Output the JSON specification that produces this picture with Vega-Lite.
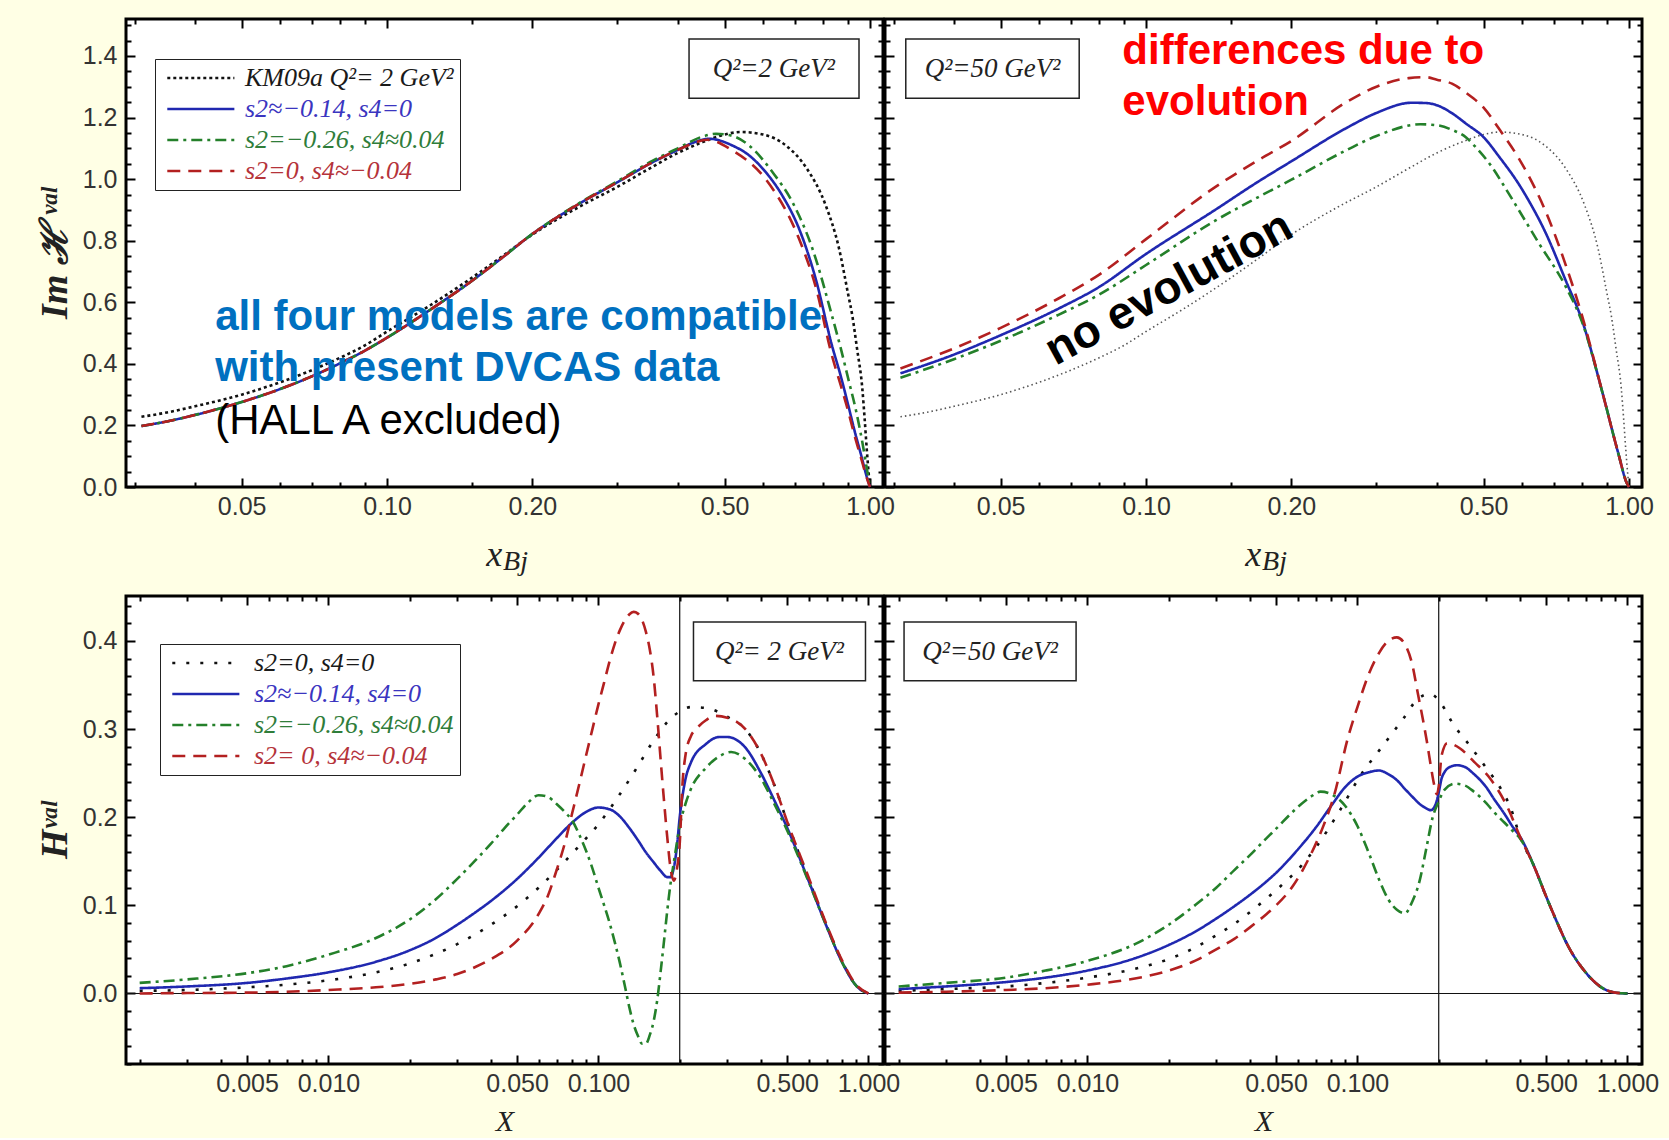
{
  "$schema": "https://vega.github.io/schema/vega-lite/v6.json",
  "background": "#FFFFE5",
  "padding": {"left": 34, "top": 11, "right": 8, "bottom": 0},
  "datasets": {
    "tl": [
      {"x":0.031,"y":0.228,"s":"K"},{"x":0.035,"y":0.242,"s":"K"},{"x":0.04,"y":0.262,"s":"K"},{"x":0.05,"y":0.3,"s":"K"},{"x":0.06,"y":0.34,"s":"K"},{"x":0.07,"y":0.38,"s":"K"},{"x":0.08,"y":0.42,"s":"K"},{"x":0.09,"y":0.46,"s":"K"},{"x":0.1,"y":0.505,"s":"K"},{"x":0.12,"y":0.58,"s":"K"},{"x":0.15,"y":0.68,"s":"K"},{"x":0.17,"y":0.74,"s":"K"},{"x":0.2,"y":0.82,"s":"K"},{"x":0.25,"y":0.91,"s":"K"},{"x":0.3,"y":0.975,"s":"K"},{"x":0.35,"y":1.035,"s":"K"},{"x":0.4,"y":1.085,"s":"K"},{"x":0.45,"y":1.12,"s":"K"},{"x":0.5,"y":1.145,"s":"K"},{"x":0.54,"y":1.153,"s":"K"},{"x":0.6,"y":1.145,"s":"K"},{"x":0.67,"y":1.109,"s":"K"},{"x":0.74,"y":1.034,"s":"K"},{"x":0.81,"y":0.914,"s":"K"},{"x":0.863,"y":0.774,"s":"K"},{"x":0.9,"y":0.63,"s":"K"},{"x":0.919,"y":0.557,"s":"K"},{"x":0.94,"y":0.45,"s":"K"},{"x":0.964,"y":0.32,"s":"K"},{"x":0.975,"y":0.22,"s":"K"},{"x":0.985,"y":0.12,"s":"K"},{"x":0.993,"y":0.05,"s":"K"},{"x":1.0,"y":0,"s":"K"},
      {"x":0.031,"y":0.198,"s":"B"},{"x":0.035,"y":0.213,"s":"B"},{"x":0.04,"y":0.234,"s":"B"},{"x":0.05,"y":0.276,"s":"B"},{"x":0.06,"y":0.318,"s":"B"},{"x":0.07,"y":0.36,"s":"B"},{"x":0.08,"y":0.402,"s":"B"},{"x":0.09,"y":0.443,"s":"B"},{"x":0.1,"y":0.485,"s":"B"},{"x":0.12,"y":0.565,"s":"B"},{"x":0.15,"y":0.67,"s":"B"},{"x":0.17,"y":0.735,"s":"B"},{"x":0.2,"y":0.822,"s":"B"},{"x":0.25,"y":0.92,"s":"B"},{"x":0.3,"y":0.99,"s":"B"},{"x":0.35,"y":1.05,"s":"B"},{"x":0.4,"y":1.095,"s":"B"},{"x":0.43,"y":1.118,"s":"B"},{"x":0.464,"y":1.131,"s":"B"},{"x":0.519,"y":1.109,"s":"B"},{"x":0.562,"y":1.077,"s":"B"},{"x":0.608,"y":1.023,"s":"B"},{"x":0.658,"y":0.947,"s":"B"},{"x":0.713,"y":0.839,"s":"B"},{"x":0.772,"y":0.676,"s":"B"},{"x":0.834,"y":0.46,"s":"B"},{"x":0.87,"y":0.36,"s":"B"},{"x":0.9,"y":0.27,"s":"B"},{"x":0.93,"y":0.18,"s":"B"},{"x":0.96,"y":0.1,"s":"B"},{"x":0.98,"y":0.045,"s":"B"},{"x":1.0,"y":0,"s":"B"},
      {"x":0.031,"y":0.198,"s":"G"},{"x":0.035,"y":0.213,"s":"G"},{"x":0.04,"y":0.234,"s":"G"},{"x":0.05,"y":0.276,"s":"G"},{"x":0.06,"y":0.318,"s":"G"},{"x":0.07,"y":0.36,"s":"G"},{"x":0.08,"y":0.402,"s":"G"},{"x":0.09,"y":0.443,"s":"G"},{"x":0.1,"y":0.485,"s":"G"},{"x":0.12,"y":0.565,"s":"G"},{"x":0.15,"y":0.67,"s":"G"},{"x":0.17,"y":0.735,"s":"G"},{"x":0.2,"y":0.822,"s":"G"},{"x":0.25,"y":0.922,"s":"G"},{"x":0.3,"y":0.993,"s":"G"},{"x":0.35,"y":1.055,"s":"G"},{"x":0.4,"y":1.1,"s":"G"},{"x":0.45,"y":1.138,"s":"G"},{"x":0.48,"y":1.147,"s":"G"},{"x":0.52,"y":1.14,"s":"G"},{"x":0.562,"y":1.109,"s":"G"},{"x":0.628,"y":1.023,"s":"G"},{"x":0.691,"y":0.925,"s":"G"},{"x":0.76,"y":0.774,"s":"G"},{"x":0.834,"y":0.557,"s":"G"},{"x":0.87,"y":0.45,"s":"G"},{"x":0.905,"y":0.341,"s":"G"},{"x":0.935,"y":0.25,"s":"G"},{"x":0.964,"y":0.146,"s":"G"},{"x":0.985,"y":0.06,"s":"G"},{"x":1.0,"y":0,"s":"G"},
      {"x":0.031,"y":0.198,"s":"R"},{"x":0.035,"y":0.213,"s":"R"},{"x":0.04,"y":0.234,"s":"R"},{"x":0.05,"y":0.276,"s":"R"},{"x":0.06,"y":0.318,"s":"R"},{"x":0.07,"y":0.36,"s":"R"},{"x":0.08,"y":0.402,"s":"R"},{"x":0.09,"y":0.443,"s":"R"},{"x":0.1,"y":0.485,"s":"R"},{"x":0.12,"y":0.565,"s":"R"},{"x":0.15,"y":0.67,"s":"R"},{"x":0.17,"y":0.735,"s":"R"},{"x":0.2,"y":0.822,"s":"R"},{"x":0.25,"y":0.92,"s":"R"},{"x":0.3,"y":0.99,"s":"R"},{"x":0.35,"y":1.05,"s":"R"},{"x":0.4,"y":1.095,"s":"R"},{"x":0.43,"y":1.116,"s":"R"},{"x":0.46,"y":1.128,"s":"R"},{"x":0.519,"y":1.093,"s":"R"},{"x":0.608,"y":1.0,"s":"R"},{"x":0.713,"y":0.806,"s":"R"},{"x":0.772,"y":0.65,"s":"R"},{"x":0.834,"y":0.427,"s":"R"},{"x":0.87,"y":0.33,"s":"R"},{"x":0.9,"y":0.25,"s":"R"},{"x":0.93,"y":0.165,"s":"R"},{"x":0.96,"y":0.09,"s":"R"},{"x":0.98,"y":0.04,"s":"R"},{"x":1.0,"y":0,"s":"R"}
    ],
    "tr": [
      {"x":0.031,"y":0.369,"s":"B"},{"x":0.04,"y":0.43,"s":"B"},{"x":0.05,"y":0.493,"s":"B"},{"x":0.066,"y":0.58,"s":"B"},{"x":0.08,"y":0.65,"s":"B"},{"x":0.1,"y":0.757,"s":"B"},{"x":0.139,"y":0.9,"s":"B"},{"x":0.17,"y":0.99,"s":"B"},{"x":0.2,"y":1.058,"s":"B"},{"x":0.26,"y":1.166,"s":"B"},{"x":0.3,"y":1.215,"s":"B"},{"x":0.355,"y":1.248,"s":"B"},{"x":0.38,"y":1.247,"s":"B"},{"x":0.4,"y":1.24,"s":"B"},{"x":0.43,"y":1.214,"s":"B"},{"x":0.46,"y":1.18,"s":"B"},{"x":0.5,"y":1.136,"s":"B"},{"x":0.54,"y":1.07,"s":"B"},{"x":0.59,"y":0.986,"s":"B"},{"x":0.62,"y":0.93,"s":"B"},{"x":0.67,"y":0.83,"s":"B"},{"x":0.74,"y":0.67,"s":"B"},{"x":0.8,"y":0.54,"s":"B"},{"x":0.88,"y":0.31,"s":"B"},{"x":0.95,"y":0.11,"s":"B"},{"x":0.99,"y":0.012,"s":"B"},{"x":1.0,"y":0,"s":"B"},
      {"x":0.031,"y":0.355,"s":"G"},{"x":0.04,"y":0.415,"s":"G"},{"x":0.05,"y":0.475,"s":"G"},{"x":0.066,"y":0.56,"s":"G"},{"x":0.08,"y":0.625,"s":"G"},{"x":0.1,"y":0.721,"s":"G"},{"x":0.139,"y":0.865,"s":"G"},{"x":0.17,"y":0.94,"s":"G"},{"x":0.2,"y":0.998,"s":"G"},{"x":0.26,"y":1.094,"s":"G"},{"x":0.3,"y":1.14,"s":"G"},{"x":0.37,"y":1.178,"s":"G"},{"x":0.4,"y":1.175,"s":"G"},{"x":0.43,"y":1.16,"s":"G"},{"x":0.46,"y":1.135,"s":"G"},{"x":0.48,"y":1.106,"s":"G"},{"x":0.52,"y":1.04,"s":"G"},{"x":0.56,"y":0.96,"s":"G"},{"x":0.65,"y":0.793,"s":"G"},{"x":0.74,"y":0.65,"s":"G"},{"x":0.8,"y":0.535,"s":"G"},{"x":0.88,"y":0.31,"s":"G"},{"x":0.95,"y":0.11,"s":"G"},{"x":0.99,"y":0.012,"s":"G"},{"x":1.0,"y":0,"s":"G"},
      {"x":0.031,"y":0.385,"s":"R"},{"x":0.04,"y":0.45,"s":"R"},{"x":0.05,"y":0.517,"s":"R"},{"x":0.066,"y":0.613,"s":"R"},{"x":0.08,"y":0.69,"s":"R"},{"x":0.1,"y":0.805,"s":"R"},{"x":0.139,"y":0.974,"s":"R"},{"x":0.17,"y":1.06,"s":"R"},{"x":0.2,"y":1.124,"s":"R"},{"x":0.26,"y":1.25,"s":"R"},{"x":0.3,"y":1.3,"s":"R"},{"x":0.35,"y":1.328,"s":"R"},{"x":0.38,"y":1.331,"s":"R"},{"x":0.4,"y":1.323,"s":"R"},{"x":0.43,"y":1.31,"s":"R"},{"x":0.46,"y":1.28,"s":"R"},{"x":0.5,"y":1.232,"s":"R"},{"x":0.54,"y":1.16,"s":"R"},{"x":0.59,"y":1.07,"s":"R"},{"x":0.62,"y":1.01,"s":"R"},{"x":0.67,"y":0.9,"s":"R"},{"x":0.74,"y":0.72,"s":"R"},{"x":0.8,"y":0.555,"s":"R"},{"x":0.88,"y":0.31,"s":"R"},{"x":0.95,"y":0.11,"s":"R"},{"x":0.99,"y":0.012,"s":"R"},{"x":1.0,"y":0,"s":"R"}
    ],
    "bl": [
      {"x":0.002,"y":0.003,"s":"K"},{"x":0.003,"y":0.004,"s":"K"},{"x":0.005,"y":0.007,"s":"K"},{"x":0.007,"y":0.01,"s":"K"},{"x":0.01,"y":0.015,"s":"K"},{"x":0.015,"y":0.024,"s":"K"},{"x":0.02,"y":0.034,"s":"K"},{"x":0.025,"y":0.045,"s":"K"},{"x":0.03,"y":0.056,"s":"K"},{"x":0.04,"y":0.078,"s":"K"},{"x":0.05,"y":0.099,"s":"K"},{"x":0.06,"y":0.12,"s":"K"},{"x":0.07,"y":0.14,"s":"K"},{"x":0.08,"y":0.159,"s":"K"},{"x":0.09,"y":0.176,"s":"K"},{"x":0.1,"y":0.192,"s":"K"},{"x":0.12,"y":0.226,"s":"K"},{"x":0.14,"y":0.258,"s":"K"},{"x":0.16,"y":0.287,"s":"K"},{"x":0.18,"y":0.308,"s":"K"},{"x":0.2,"y":0.32,"s":"K"},{"x":0.22,"y":0.325,"s":"K"},{"x":0.25,"y":0.324,"s":"K"},{"x":0.28,"y":0.319,"s":"K"},{"x":0.3,"y":0.314,"s":"K"},{"x":0.35,"y":0.3,"s":"K"},{"x":0.4,"y":0.272,"s":"K"},{"x":0.45,"y":0.235,"s":"K"},{"x":0.5,"y":0.195,"s":"K"},{"x":0.6,"y":0.13,"s":"K"},{"x":0.7,"y":0.077,"s":"K"},{"x":0.8,"y":0.036,"s":"K"},{"x":0.9,"y":0.009,"s":"K"},{"x":1.0,"y":0,"s":"K"},
      {"x":0.002,"y":0.006,"s":"B"},{"x":0.003,"y":0.008,"s":"B"},{"x":0.005,"y":0.012,"s":"B"},{"x":0.007,"y":0.017,"s":"B"},{"x":0.01,"y":0.024,"s":"B"},{"x":0.015,"y":0.036,"s":"B"},{"x":0.02,"y":0.049,"s":"B"},{"x":0.025,"y":0.063,"s":"B"},{"x":0.03,"y":0.078,"s":"B"},{"x":0.035,"y":0.092,"s":"B"},{"x":0.04,"y":0.105,"s":"B"},{"x":0.05,"y":0.13,"s":"B"},{"x":0.06,"y":0.154,"s":"B"},{"x":0.07,"y":0.176,"s":"B"},{"x":0.08,"y":0.194,"s":"B"},{"x":0.09,"y":0.206,"s":"B"},{"x":0.1,"y":0.211,"s":"B"},{"x":0.11,"y":0.209,"s":"B"},{"x":0.12,"y":0.201,"s":"B"},{"x":0.13,"y":0.188,"s":"B"},{"x":0.14,"y":0.174,"s":"B"},{"x":0.15,"y":0.16,"s":"B"},{"x":0.16,"y":0.149,"s":"B"},{"x":0.17,"y":0.139,"s":"B"},{"x":0.18,"y":0.132,"s":"B"},{"x":0.185,"y":0.132,"s":"B"},{"x":0.19,"y":0.142,"s":"B"},{"x":0.195,"y":0.165,"s":"B"},{"x":0.2,"y":0.2,"s":"B"},{"x":0.205,"y":0.225,"s":"B"},{"x":0.21,"y":0.243,"s":"B"},{"x":0.22,"y":0.262,"s":"B"},{"x":0.25,"y":0.283,"s":"B"},{"x":0.28,"y":0.291,"s":"B"},{"x":0.3,"y":0.291,"s":"B"},{"x":0.35,"y":0.279,"s":"B"},{"x":0.4,"y":0.25,"s":"B"},{"x":0.45,"y":0.218,"s":"B"},{"x":0.5,"y":0.188,"s":"B"},{"x":0.6,"y":0.128,"s":"B"},{"x":0.7,"y":0.076,"s":"B"},{"x":0.8,"y":0.035,"s":"B"},{"x":0.9,"y":0.009,"s":"B"},{"x":1.0,"y":0,"s":"B"},
      {"x":0.002,"y":0.012,"s":"G"},{"x":0.003,"y":0.016,"s":"G"},{"x":0.005,"y":0.023,"s":"G"},{"x":0.007,"y":0.031,"s":"G"},{"x":0.01,"y":0.044,"s":"G"},{"x":0.015,"y":0.063,"s":"G"},{"x":0.02,"y":0.084,"s":"G"},{"x":0.025,"y":0.107,"s":"G"},{"x":0.03,"y":0.13,"s":"G"},{"x":0.035,"y":0.151,"s":"G"},{"x":0.04,"y":0.17,"s":"G"},{"x":0.045,"y":0.188,"s":"G"},{"x":0.05,"y":0.203,"s":"G"},{"x":0.055,"y":0.217,"s":"G"},{"x":0.06,"y":0.225,"s":"G"},{"x":0.065,"y":0.223,"s":"G"},{"x":0.07,"y":0.215,"s":"G"},{"x":0.075,"y":0.206,"s":"G"},{"x":0.08,"y":0.196,"s":"G"},{"x":0.085,"y":0.18,"s":"G"},{"x":0.09,"y":0.162,"s":"G"},{"x":0.095,"y":0.142,"s":"G"},{"x":0.1,"y":0.12,"s":"G"},{"x":0.105,"y":0.1,"s":"G"},{"x":0.11,"y":0.08,"s":"G"},{"x":0.115,"y":0.058,"s":"G"},{"x":0.12,"y":0.035,"s":"G"},{"x":0.125,"y":0.01,"s":"G"},{"x":0.13,"y":-0.015,"s":"G"},{"x":0.135,"y":-0.035,"s":"G"},{"x":0.14,"y":-0.048,"s":"G"},{"x":0.145,"y":-0.057,"s":"G"},{"x":0.15,"y":-0.057,"s":"G"},{"x":0.155,"y":-0.047,"s":"G"},{"x":0.16,"y":-0.032,"s":"G"},{"x":0.165,"y":-0.008,"s":"G"},{"x":0.17,"y":0.025,"s":"G"},{"x":0.175,"y":0.06,"s":"G"},{"x":0.18,"y":0.095,"s":"G"},{"x":0.185,"y":0.125,"s":"G"},{"x":0.19,"y":0.148,"s":"G"},{"x":0.195,"y":0.17,"s":"G"},{"x":0.2,"y":0.19,"s":"G"},{"x":0.21,"y":0.215,"s":"G"},{"x":0.22,"y":0.232,"s":"G"},{"x":0.25,"y":0.256,"s":"G"},{"x":0.28,"y":0.269,"s":"G"},{"x":0.31,"y":0.274,"s":"G"},{"x":0.35,"y":0.266,"s":"G"},{"x":0.4,"y":0.244,"s":"G"},{"x":0.45,"y":0.214,"s":"G"},{"x":0.5,"y":0.185,"s":"G"},{"x":0.6,"y":0.127,"s":"G"},{"x":0.7,"y":0.076,"s":"G"},{"x":0.8,"y":0.035,"s":"G"},{"x":0.9,"y":0.009,"s":"G"},{"x":1.0,"y":0,"s":"G"},
      {"x":0.002,"y":0.0,"s":"R"},{"x":0.003,"y":0.0005,"s":"R"},{"x":0.005,"y":0.001,"s":"R"},{"x":0.007,"y":0.002,"s":"R"},{"x":0.01,"y":0.004,"s":"R"},{"x":0.015,"y":0.007,"s":"R"},{"x":0.02,"y":0.011,"s":"R"},{"x":0.025,"y":0.016,"s":"R"},{"x":0.03,"y":0.022,"s":"R"},{"x":0.035,"y":0.03,"s":"R"},{"x":0.04,"y":0.039,"s":"R"},{"x":0.05,"y":0.06,"s":"R"},{"x":0.06,"y":0.09,"s":"R"},{"x":0.065,"y":0.111,"s":"R"},{"x":0.07,"y":0.14,"s":"R"},{"x":0.075,"y":0.17,"s":"R"},{"x":0.08,"y":0.205,"s":"R"},{"x":0.085,"y":0.238,"s":"R"},{"x":0.09,"y":0.27,"s":"R"},{"x":0.095,"y":0.3,"s":"R"},{"x":0.1,"y":0.328,"s":"R"},{"x":0.105,"y":0.353,"s":"R"},{"x":0.11,"y":0.377,"s":"R"},{"x":0.115,"y":0.397,"s":"R"},{"x":0.12,"y":0.412,"s":"R"},{"x":0.125,"y":0.423,"s":"R"},{"x":0.13,"y":0.43,"s":"R"},{"x":0.135,"y":0.433,"s":"R"},{"x":0.14,"y":0.431,"s":"R"},{"x":0.145,"y":0.424,"s":"R"},{"x":0.15,"y":0.41,"s":"R"},{"x":0.155,"y":0.39,"s":"R"},{"x":0.16,"y":0.36,"s":"R"},{"x":0.165,"y":0.315,"s":"R"},{"x":0.17,"y":0.265,"s":"R"},{"x":0.175,"y":0.218,"s":"R"},{"x":0.18,"y":0.176,"s":"R"},{"x":0.185,"y":0.142,"s":"R"},{"x":0.19,"y":0.128,"s":"R"},{"x":0.195,"y":0.14,"s":"R"},{"x":0.2,"y":0.17,"s":"R"},{"x":0.205,"y":0.24,"s":"R"},{"x":0.21,"y":0.27,"s":"R"},{"x":0.22,"y":0.292,"s":"R"},{"x":0.23,"y":0.3,"s":"R"},{"x":0.25,"y":0.31,"s":"R"},{"x":0.27,"y":0.315,"s":"R"},{"x":0.3,"y":0.313,"s":"R"},{"x":0.35,"y":0.3,"s":"R"},{"x":0.4,"y":0.272,"s":"R"},{"x":0.45,"y":0.235,"s":"R"},{"x":0.5,"y":0.195,"s":"R"},{"x":0.6,"y":0.132,"s":"R"},{"x":0.7,"y":0.078,"s":"R"},{"x":0.8,"y":0.037,"s":"R"},{"x":0.9,"y":0.01,"s":"R"},{"x":1.0,"y":0,"s":"R"}
    ],
    "br": [
      {"x":0.002,"y":0.003,"s":"K"},{"x":0.003,"y":0.005,"s":"K"},{"x":0.005,"y":0.008,"s":"K"},{"x":0.007,"y":0.012,"s":"K"},{"x":0.01,"y":0.018,"s":"K"},{"x":0.015,"y":0.028,"s":"K"},{"x":0.02,"y":0.039,"s":"K"},{"x":0.025,"y":0.052,"s":"K"},{"x":0.03,"y":0.066,"s":"K"},{"x":0.035,"y":0.079,"s":"K"},{"x":0.041,"y":0.095,"s":"K"},{"x":0.052,"y":0.122,"s":"K"},{"x":0.062,"y":0.145,"s":"K"},{"x":0.071,"y":0.168,"s":"K"},{"x":0.087,"y":0.21,"s":"K"},{"x":0.103,"y":0.248,"s":"K"},{"x":0.122,"y":0.278,"s":"K"},{"x":0.148,"y":0.312,"s":"K"},{"x":0.167,"y":0.334,"s":"K"},{"x":0.186,"y":0.34,"s":"K"},{"x":0.204,"y":0.329,"s":"K"},{"x":0.228,"y":0.304,"s":"K"},{"x":0.255,"y":0.285,"s":"K"},{"x":0.295,"y":0.259,"s":"K"},{"x":0.34,"y":0.232,"s":"K"},{"x":0.37,"y":0.21,"s":"K"},{"x":0.4,"y":0.178,"s":"K"},{"x":0.45,"y":0.145,"s":"K"},{"x":0.5,"y":0.11,"s":"K"},{"x":0.55,"y":0.08,"s":"K"},{"x":0.6,"y":0.055,"s":"K"},{"x":0.7,"y":0.024,"s":"K"},{"x":0.8,"y":0.007,"s":"K"},{"x":0.9,"y":0.001,"s":"K"},{"x":1.0,"y":0,"s":"K"},
      {"x":0.002,"y":0.005,"s":"B"},{"x":0.003,"y":0.008,"s":"B"},{"x":0.005,"y":0.013,"s":"B"},{"x":0.007,"y":0.018,"s":"B"},{"x":0.01,"y":0.026,"s":"B"},{"x":0.015,"y":0.04,"s":"B"},{"x":0.02,"y":0.055,"s":"B"},{"x":0.025,"y":0.07,"s":"B"},{"x":0.03,"y":0.085,"s":"B"},{"x":0.035,"y":0.099,"s":"B"},{"x":0.04,"y":0.112,"s":"B"},{"x":0.046,"y":0.127,"s":"B"},{"x":0.05,"y":0.137,"s":"B"},{"x":0.06,"y":0.163,"s":"B"},{"x":0.07,"y":0.188,"s":"B"},{"x":0.08,"y":0.213,"s":"B"},{"x":0.09,"y":0.234,"s":"B"},{"x":0.1,"y":0.246,"s":"B"},{"x":0.11,"y":0.251,"s":"B"},{"x":0.12,"y":0.253,"s":"B"},{"x":0.13,"y":0.249,"s":"B"},{"x":0.14,"y":0.242,"s":"B"},{"x":0.15,"y":0.232,"s":"B"},{"x":0.16,"y":0.223,"s":"B"},{"x":0.17,"y":0.215,"s":"B"},{"x":0.18,"y":0.21,"s":"B"},{"x":0.187,"y":0.208,"s":"B"},{"x":0.195,"y":0.215,"s":"B"},{"x":0.2,"y":0.228,"s":"B"},{"x":0.205,"y":0.244,"s":"B"},{"x":0.21,"y":0.251,"s":"B"},{"x":0.22,"y":0.257,"s":"B"},{"x":0.234,"y":0.259,"s":"B"},{"x":0.25,"y":0.257,"s":"B"},{"x":0.27,"y":0.249,"s":"B"},{"x":0.3,"y":0.234,"s":"B"},{"x":0.32,"y":0.221,"s":"B"},{"x":0.35,"y":0.204,"s":"B"},{"x":0.38,"y":0.187,"s":"B"},{"x":0.4,"y":0.178,"s":"B"},{"x":0.45,"y":0.145,"s":"B"},{"x":0.5,"y":0.11,"s":"B"},{"x":0.55,"y":0.08,"s":"B"},{"x":0.6,"y":0.055,"s":"B"},{"x":0.7,"y":0.024,"s":"B"},{"x":0.8,"y":0.007,"s":"B"},{"x":0.9,"y":0.001,"s":"B"},{"x":1.0,"y":0,"s":"B"},
      {"x":0.002,"y":0.008,"s":"G"},{"x":0.003,"y":0.012,"s":"G"},{"x":0.005,"y":0.018,"s":"G"},{"x":0.007,"y":0.026,"s":"G"},{"x":0.01,"y":0.037,"s":"G"},{"x":0.015,"y":0.056,"s":"G"},{"x":0.02,"y":0.078,"s":"G"},{"x":0.025,"y":0.1,"s":"G"},{"x":0.03,"y":0.12,"s":"G"},{"x":0.035,"y":0.14,"s":"G"},{"x":0.04,"y":0.157,"s":"G"},{"x":0.046,"y":0.176,"s":"G"},{"x":0.05,"y":0.187,"s":"G"},{"x":0.058,"y":0.207,"s":"G"},{"x":0.067,"y":0.223,"s":"G"},{"x":0.073,"y":0.229,"s":"G"},{"x":0.08,"y":0.226,"s":"G"},{"x":0.09,"y":0.213,"s":"G"},{"x":0.1,"y":0.19,"s":"G"},{"x":0.11,"y":0.16,"s":"G"},{"x":0.12,"y":0.13,"s":"G"},{"x":0.13,"y":0.107,"s":"G"},{"x":0.14,"y":0.095,"s":"G"},{"x":0.15,"y":0.091,"s":"G"},{"x":0.16,"y":0.105,"s":"G"},{"x":0.17,"y":0.128,"s":"G"},{"x":0.18,"y":0.165,"s":"G"},{"x":0.19,"y":0.2,"s":"G"},{"x":0.2,"y":0.218,"s":"G"},{"x":0.21,"y":0.231,"s":"G"},{"x":0.23,"y":0.238,"s":"G"},{"x":0.25,"y":0.236,"s":"G"},{"x":0.27,"y":0.229,"s":"G"},{"x":0.3,"y":0.216,"s":"G"},{"x":0.32,"y":0.206,"s":"G"},{"x":0.35,"y":0.194,"s":"G"},{"x":0.38,"y":0.183,"s":"G"},{"x":0.4,"y":0.176,"s":"G"},{"x":0.45,"y":0.145,"s":"G"},{"x":0.5,"y":0.11,"s":"G"},{"x":0.55,"y":0.08,"s":"G"},{"x":0.6,"y":0.055,"s":"G"},{"x":0.7,"y":0.024,"s":"G"},{"x":0.8,"y":0.007,"s":"G"},{"x":0.9,"y":0.001,"s":"G"},{"x":1.0,"y":0,"s":"G"},
      {"x":0.002,"y":0.001,"s":"R"},{"x":0.003,"y":0.002,"s":"R"},{"x":0.005,"y":0.004,"s":"R"},{"x":0.007,"y":0.006,"s":"R"},{"x":0.01,"y":0.01,"s":"R"},{"x":0.015,"y":0.017,"s":"R"},{"x":0.02,"y":0.026,"s":"R"},{"x":0.025,"y":0.037,"s":"R"},{"x":0.03,"y":0.05,"s":"R"},{"x":0.035,"y":0.062,"s":"R"},{"x":0.04,"y":0.075,"s":"R"},{"x":0.046,"y":0.09,"s":"R"},{"x":0.05,"y":0.1,"s":"R"},{"x":0.058,"y":0.123,"s":"R"},{"x":0.067,"y":0.157,"s":"R"},{"x":0.075,"y":0.191,"s":"R"},{"x":0.082,"y":0.225,"s":"R"},{"x":0.092,"y":0.289,"s":"R"},{"x":0.1,"y":0.325,"s":"R"},{"x":0.11,"y":0.362,"s":"R"},{"x":0.12,"y":0.386,"s":"R"},{"x":0.13,"y":0.4,"s":"R"},{"x":0.14,"y":0.404,"s":"R"},{"x":0.15,"y":0.396,"s":"R"},{"x":0.16,"y":0.372,"s":"R"},{"x":0.167,"y":0.342,"s":"R"},{"x":0.175,"y":0.31,"s":"R"},{"x":0.181,"y":0.285,"s":"R"},{"x":0.187,"y":0.258,"s":"R"},{"x":0.192,"y":0.238,"s":"R"},{"x":0.197,"y":0.226,"s":"R"},{"x":0.2,"y":0.235,"s":"R"},{"x":0.205,"y":0.27,"s":"R"},{"x":0.215,"y":0.284,"s":"R"},{"x":0.24,"y":0.278,"s":"R"},{"x":0.27,"y":0.263,"s":"R"},{"x":0.31,"y":0.244,"s":"R"},{"x":0.36,"y":0.211,"s":"R"},{"x":0.4,"y":0.178,"s":"R"},{"x":0.45,"y":0.145,"s":"R"},{"x":0.5,"y":0.11,"s":"R"},{"x":0.55,"y":0.08,"s":"R"},{"x":0.6,"y":0.055,"s":"R"},{"x":0.7,"y":0.024,"s":"R"},{"x":0.8,"y":0.007,"s":"R"},{"x":0.9,"y":0.001,"s":"R"},{"x":1.0,"y":0,"s":"R"}
    ]
  },
  "columns": 2,
  "spacing": {"row": 109, "column": 2},
  "bounds": "flush",
  "resolve": {
    "scale": {"x": "independent", "y": "independent", "color": "independent", "strokeDash": "independent"},
    "legend": {"color": "independent", "strokeDash": "independent"}
  },
  "concat": [
    {
      "width": 757, "height": 468,
      "layer": [
        {
          "data": {"name": "tl"},
          "mark": {"type": "line", "strokeWidth": 2.6, "interpolate": "monotone"},
          "encoding": {
            "x": {"field": "x", "type": "quantitative", "scale": {"type": "log", "domain": [0.0288, 1.064], "nice": false},
              "axis": {"orient": "bottom", "values": [0.03,0.04,0.05,0.06,0.07,0.08,0.09,0.1,0.15,0.2,0.3,0.4,0.5,0.6,0.7,0.8,0.9,1],
                "labelExpr": "indexof([0.05,0.1,0.2,0.5,1], datum.value) >= 0 ? format(datum.value, '.2f') : ''",
                "tickSize": {"condition": {"test": "indexof([0.05,0.1,0.2,0.5,1], datum.value) >= 0", "value": -9}, "value": -5},
                "labelPadding": 16, "title": null}},
            "y": {"field": "y", "type": "quantitative", "scale": {"domain": [0, 1.52], "nice": false, "zero": false},
              "axis": {"orient": "left", "values": [0,0.05,0.1,0.15,0.2,0.25,0.3,0.35,0.4,0.45,0.5,0.55,0.6,0.65,0.7,0.75,0.8,0.85,0.9,0.95,1,1.05,1.1,1.15,1.2,1.25,1.3,1.35,1.4,1.45,1.5],
                "labelExpr": "abs(datum.value*5 - round(datum.value*5)) < 0.001 ? format(datum.value, '.1f') : ''",
                "tickSize": {"condition": {"test": "abs(datum.value*5 - round(datum.value*5)) < 0.001", "value": -9}, "value": -5},
                "labelPadding": 18, "title": "Im ℋ ᵛᵃˡ", "titleFontWeight": "bold", "titleFontSize": 38, "titlePadding": 8}},
            "color": {"field": "s", "type": "nominal", "scale": {"domain": ["K","B","G","R"], "range": ["#111111","#2028b0","#24802a","#b32020"]},
              "legend": {"orient": "none", "legendX": 29, "legendY": 40, "title": null, "fillColor": "white", "strokeColor": "#222", "padding": 6, "rowPadding": 5,
                "symbolType": "M-1,0H9", "symbolSize": 180, "symbolStrokeWidth": 2.6, "labelFont": "Liberation Serif", "labelFontStyle": "italic", "labelFontSize": 26, "labelOffset": 58, "labelLimit": 400,
                "labelExpr": "datum.value === 'K' ? 'KM09a Q²= 2 GeV²' : datum.value === 'B' ? 's2≈−0.14, s4=0' : datum.value === 'G' ? 's2=−0.26, s4≈0.04' : 's2=0, s4≈−0.04'",
                "encode": {"labels": {"update": {"fill": {"signal": "datum.value === 'K' ? '#1a1a1a' : datum.value === 'B' ? '#3b35c0' : datum.value === 'G' ? '#2f7d3a' : '#b5333a'"}}}}}},
            "strokeDash": {"field": "s", "type": "nominal", "scale": {"domain": ["K","B","G","R"], "range": [[3,3],[1,0],[11,5,3,5],[13,8]]},
              "legend": {"orient": "none", "legendX": 29, "legendY": 40, "title": null, "fillColor": "white", "strokeColor": "#222", "padding": 6, "rowPadding": 5,
                "symbolType": "M-1,0H9", "symbolSize": 180, "symbolStrokeWidth": 2.6, "labelFont": "Liberation Serif", "labelFontStyle": "italic", "labelFontSize": 26, "labelOffset": 58, "labelLimit": 400,
                "labelExpr": "datum.value === 'K' ? 'KM09a Q²= 2 GeV²' : datum.value === 'B' ? 's2≈−0.14, s4=0' : datum.value === 'G' ? 's2=−0.26, s4≈0.04' : 's2=0, s4≈−0.04'",
                "encode": {"labels": {"update": {"fill": {"signal": "datum.value === 'K' ? '#1a1a1a' : datum.value === 'B' ? '#3b35c0' : datum.value === 'G' ? '#2f7d3a' : '#b5333a'"}}}}}}
          }
        },
        {
          "data": {"name": "tl"},
          "mark": {"type": "line", "opacity": 0},
          "encoding": {
            "x": {"field": "x", "type": "quantitative", "scale": {"type": "log", "domain": [0.0288, 1.064], "nice": false}, "axis": {"orient": "top", "labels": false, "title": null, "values": [0.03,0.04,0.05,0.06,0.07,0.08,0.09,0.1,0.15,0.2,0.3,0.4,0.5,0.6,0.7,0.8,0.9,1],
              "tickSize": {"condition": {"test": "indexof([0.05,0.1,0.2,0.5,1], datum.value) >= 0", "value": -9}, "value": -5}}},
            "y": {"field": "y", "type": "quantitative", "scale": {"domain": [0, 1.52], "nice": false, "zero": false}, "axis": {"orient": "right", "labels": false, "title": null, "values": [0,0.05,0.1,0.15,0.2,0.25,0.3,0.35,0.4,0.45,0.5,0.55,0.6,0.65,0.7,0.75,0.8,0.85,0.9,0.95,1,1.05,1.1,1.15,1.2,1.25,1.3,1.35,1.4,1.45,1.5],
              "tickSize": {"condition": {"test": "abs(datum.value*5 - round(datum.value*5)) < 0.001", "value": -9}, "value": -5}}}
          }
        },
        {
          "data": {"values": [{}]},
          "mark": {"type": "text", "font": "Liberation Serif", "fontStyle": "italic", "fontSize": 36, "color": "#222", "align": "left", "baseline": "alphabetic"},
          "encoding": {"x": {"datum": 0.1604, "type": "quantitative", "scale": {"type": "log", "domain": [0.0288, 1.064], "nice": false}, "axis": null}, "y": {"datum": -0.2565, "type": "quantitative", "scale": {"domain": [0, 1.52], "nice": false, "zero": false}, "axis": null}, "text": {"value": "x"}}
        },
        {
          "data": {"values": [{}]},
          "mark": {"type": "text", "font": "Liberation Serif", "fontStyle": "italic", "fontSize": 28, "color": "#222", "align": "left", "baseline": "alphabetic"},
          "encoding": {"x": {"datum": 0.1739, "type": "quantitative", "scale": {"type": "log", "domain": [0.0288, 1.064], "nice": false}, "axis": null}, "y": {"datum": -0.2695, "type": "quantitative", "scale": {"domain": [0, 1.52], "nice": false, "zero": false}, "axis": null}, "text": {"value": "Bj"}}
        },
        {
          "data": {"values": [{}]},
          "mark": {"type": "rect", "fill": "white", "stroke": "#222", "strokeWidth": 1.5},
          "encoding": {"x": {"datum": 0.422, "type": "quantitative", "scale": {"type": "log", "domain": [0.0288, 1.064], "nice": false}, "axis": null}, "x2": {"datum": 0.949}, "y": {"datum": 1.455, "type": "quantitative", "scale": {"domain": [0, 1.52], "nice": false, "zero": false}, "axis": null}, "y2": {"datum": 1.263}}
        },
        {
          "data": {"values": [{}]},
          "mark": {"type": "text", "font": "Liberation Serif", "fontStyle": "italic", "fontSize": 27, "color": "#222", "align": "center", "baseline": "middle"},
          "encoding": {"x": {"datum": 0.632, "type": "quantitative", "scale": {"type": "log", "domain": [0.0288, 1.064], "nice": false}, "axis": null}, "y": {"datum": 1.359, "type": "quantitative", "scale": {"domain": [0, 1.52], "nice": false, "zero": false}, "axis": null}, "text": {"value": "Q²=2 GeV²"}}
        },
        {
          "data": {"values": [{}]},
          "mark": {"type": "text", "font": "Liberation Sans", "fontWeight": "bold", "fontSize": 42, "color": "#0070C0", "align": "left", "baseline": "alphabetic", "lineHeight": 51},
          "encoding": {"x": {"datum": 0.04406, "type": "quantitative", "scale": {"type": "log", "domain": [0.0288, 1.064], "nice": false}, "axis": null}, "y": {"datum": 0.5097, "type": "quantitative", "scale": {"domain": [0, 1.52], "nice": false, "zero": false}, "axis": null}, "text": {"value": ["all four models are compatible", "with present DVCAS data"]}}
        },
        {
          "data": {"values": [{}]},
          "mark": {"type": "text", "font": "Liberation Sans", "fontSize": 42, "color": "#000000", "align": "left", "baseline": "alphabetic"},
          "encoding": {"x": {"datum": 0.04406, "type": "quantitative", "scale": {"type": "log", "domain": [0.0288, 1.064], "nice": false}, "axis": null}, "y": {"datum": 0.172, "type": "quantitative", "scale": {"domain": [0, 1.52], "nice": false, "zero": false}, "axis": null}, "text": {"value": "(HALL A excluded)"}}
        }
      ],
      "resolve": {"axis": {"x": "independent", "y": "independent"}}
    },
    {
      "width": 757, "height": 468,
      "layer": [
        {
          "data": {"name": "tl"},
          "transform": [{"filter": "datum.s === 'K'"}],
          "mark": {"type": "line", "strokeWidth": 1.6, "color": "#555555", "strokeDash": [1.5, 3], "interpolate": "monotone"},
          "encoding": {
            "x": {"field": "x", "type": "quantitative", "scale": {"type": "log", "domain": [0.0288, 1.064], "nice": false},
              "axis": {"orient": "bottom", "values": [0.03,0.04,0.05,0.06,0.07,0.08,0.09,0.1,0.15,0.2,0.3,0.4,0.5,0.6,0.7,0.8,0.9,1],
                "labelExpr": "indexof([0.05,0.1,0.2,0.5,1], datum.value) >= 0 ? format(datum.value, '.2f') : ''",
                "tickSize": {"condition": {"test": "indexof([0.05,0.1,0.2,0.5,1], datum.value) >= 0", "value": -9}, "value": -5},
                "labelPadding": 16, "title": null}},
            "y": {"field": "y", "type": "quantitative", "scale": {"domain": [0, 1.52], "nice": false, "zero": false},
              "axis": {"orient": "left", "labels": false, "title": null, "values": [0,0.05,0.1,0.15,0.2,0.25,0.3,0.35,0.4,0.45,0.5,0.55,0.6,0.65,0.7,0.75,0.8,0.85,0.9,0.95,1,1.05,1.1,1.15,1.2,1.25,1.3,1.35,1.4,1.45,1.5],
                "tickSize": {"condition": {"test": "abs(datum.value*5 - round(datum.value*5)) < 0.001", "value": -9}, "value": -5}}}
          }
        },
        {
          "data": {"name": "tr"},
          "mark": {"type": "line", "strokeWidth": 2.6, "interpolate": "monotone"},
          "encoding": {
            "x": {"field": "x", "type": "quantitative", "scale": {"type": "log", "domain": [0.0288, 1.064], "nice": false}, "axis": null},
            "y": {"field": "y", "type": "quantitative", "scale": {"domain": [0, 1.52], "nice": false, "zero": false}, "axis": null},
            "color": {"field": "s", "type": "nominal", "scale": {"domain": ["B","G","R"], "range": ["#2028b0","#24802a","#b32020"]}, "legend": null},
            "strokeDash": {"field": "s", "type": "nominal", "scale": {"domain": ["B","G","R"], "range": [[1,0],[11,5,3,5],[13,8]]}, "legend": null}
          }
        },
        {
          "data": {"name": "tr"},
          "mark": {"type": "line", "opacity": 0},
          "encoding": {
            "x": {"field": "x", "type": "quantitative", "scale": {"type": "log", "domain": [0.0288, 1.064], "nice": false}, "axis": {"orient": "top", "labels": false, "title": null, "values": [0.03,0.04,0.05,0.06,0.07,0.08,0.09,0.1,0.15,0.2,0.3,0.4,0.5,0.6,0.7,0.8,0.9,1],
              "tickSize": {"condition": {"test": "indexof([0.05,0.1,0.2,0.5,1], datum.value) >= 0", "value": -9}, "value": -5}}},
            "y": {"field": "y", "type": "quantitative", "scale": {"domain": [0, 1.52], "nice": false, "zero": false}, "axis": {"orient": "right", "labels": false, "title": null, "values": [0,0.05,0.1,0.15,0.2,0.25,0.3,0.35,0.4,0.45,0.5,0.55,0.6,0.65,0.7,0.75,0.8,0.85,0.9,0.95,1,1.05,1.1,1.15,1.2,1.25,1.3,1.35,1.4,1.45,1.5],
              "tickSize": {"condition": {"test": "abs(datum.value*5 - round(datum.value*5)) < 0.001", "value": -9}, "value": -5}}}
          }
        },
        {
          "data": {"values": [{}]},
          "mark": {"type": "text", "font": "Liberation Serif", "fontStyle": "italic", "fontSize": 36, "color": "#222", "align": "left", "baseline": "alphabetic"},
          "encoding": {"x": {"datum": 0.1604, "type": "quantitative", "scale": {"type": "log", "domain": [0.0288, 1.064], "nice": false}, "axis": null}, "y": {"datum": -0.2565, "type": "quantitative", "scale": {"domain": [0, 1.52], "nice": false, "zero": false}, "axis": null}, "text": {"value": "x"}}
        },
        {
          "data": {"values": [{}]},
          "mark": {"type": "text", "font": "Liberation Serif", "fontStyle": "italic", "fontSize": 28, "color": "#222", "align": "left", "baseline": "alphabetic"},
          "encoding": {"x": {"datum": 0.1739, "type": "quantitative", "scale": {"type": "log", "domain": [0.0288, 1.064], "nice": false}, "axis": null}, "y": {"datum": -0.2695, "type": "quantitative", "scale": {"domain": [0, 1.52], "nice": false, "zero": false}, "axis": null}, "text": {"value": "Bj"}}
        },
        {
          "data": {"values": [{}]},
          "mark": {"type": "rect", "fill": "white", "stroke": "#222", "strokeWidth": 1.5},
          "encoding": {"x": {"datum": 0.0318, "type": "quantitative", "scale": {"type": "log", "domain": [0.0288, 1.064], "nice": false}, "axis": null}, "x2": {"datum": 0.0727}, "y": {"datum": 1.455, "type": "quantitative", "scale": {"domain": [0, 1.52], "nice": false, "zero": false}, "axis": null}, "y2": {"datum": 1.263}}
        },
        {
          "data": {"values": [{}]},
          "mark": {"type": "text", "font": "Liberation Serif", "fontStyle": "italic", "fontSize": 27, "color": "#222", "align": "center", "baseline": "middle"},
          "encoding": {"x": {"datum": 0.0481, "type": "quantitative", "scale": {"type": "log", "domain": [0.0288, 1.064], "nice": false}, "axis": null}, "y": {"datum": 1.359, "type": "quantitative", "scale": {"domain": [0, 1.52], "nice": false, "zero": false}, "axis": null}, "text": {"value": "Q²=50 GeV²"}}
        },
        {
          "data": {"values": [{}]},
          "mark": {"type": "text", "font": "Liberation Sans", "fontWeight": "bold", "fontSize": 42, "color": "#FF0000", "align": "left", "baseline": "alphabetic", "lineHeight": 51},
          "encoding": {"x": {"datum": 0.0893, "type": "quantitative", "scale": {"type": "log", "domain": [0.0288, 1.064], "nice": false}, "axis": null}, "y": {"datum": 1.373, "type": "quantitative", "scale": {"domain": [0, 1.52], "nice": false, "zero": false}, "axis": null}, "text": {"value": ["differences due to", "evolution"]}}
        },
        {
          "data": {"values": [{}]},
          "mark": {"type": "text", "font": "Liberation Sans", "fontWeight": "bold", "fontSize": 46, "color": "#000000", "align": "center", "baseline": "middle", "angle": 331.5},
          "encoding": {"x": {"datum": 0.1115, "type": "quantitative", "scale": {"type": "log", "domain": [0.0288, 1.064], "nice": false}, "axis": null}, "y": {"datum": 0.645, "type": "quantitative", "scale": {"domain": [0, 1.52], "nice": false, "zero": false}, "axis": null}, "text": {"value": "no evolution"}}
        }
      ],
      "resolve": {"axis": {"x": "independent", "y": "independent"}}
    },
    {
      "width": 757, "height": 468,
      "layer": [
        {
          "data": {"values": [{}]},
          "mark": {"type": "rule", "color": "#111", "strokeWidth": 1.2},
          "encoding": {"x": {"datum": 0.2, "type": "quantitative", "scale": {"type": "log", "domain": [0.00178, 1.132], "nice": false}, "axis": null}}
        },
        {
          "data": {"values": [{}]},
          "mark": {"type": "rule", "color": "#111", "strokeWidth": 1.2},
          "encoding": {"y": {"datum": 0, "type": "quantitative", "scale": {"domain": [-0.08, 0.451], "nice": false, "zero": false}, "axis": null}}
        },
        {
          "data": {"name": "bl"},
          "mark": {"type": "line", "strokeWidth": 2.6, "interpolate": "monotone"},
          "encoding": {
            "x": {"field": "x", "type": "quantitative", "scale": {"type": "log", "domain": [0.00178, 1.132], "nice": false},
              "axis": {"orient": "bottom", "values": [0.002,0.003,0.004,0.005,0.006,0.007,0.008,0.009,0.01,0.02,0.03,0.04,0.05,0.06,0.07,0.08,0.09,0.1,0.2,0.3,0.4,0.5,0.6,0.7,0.8,0.9,1],
                "labelExpr": "indexof([0.005,0.01,0.05,0.1,0.5,1], datum.value) >= 0 ? format(datum.value, '.3f') : ''",
                "tickSize": {"condition": {"test": "indexof([0.005,0.01,0.05,0.1,0.5,1], datum.value) >= 0", "value": -9}, "value": -5},
                "labelPadding": 16, "title": "X", "titleFontWeight": "normal", "titleFontSize": 30, "titlePadding": 6}},
            "y": {"field": "y", "type": "quantitative", "scale": {"domain": [-0.08, 0.451], "nice": false, "zero": false},
              "axis": {"orient": "left", "values": [-0.08,-0.06,-0.04,-0.02,0,0.02,0.04,0.06,0.08,0.1,0.12,0.14,0.16,0.18,0.2,0.22,0.24,0.26,0.28,0.3,0.32,0.34,0.36,0.38,0.4,0.42,0.44],
                "labelExpr": "abs(datum.value*10 - round(datum.value*10)) < 0.001 && datum.value > -0.01 ? format(datum.value, '.1f') : ''",
                "tickSize": {"condition": {"test": "abs(datum.value*10 - round(datum.value*10)) < 0.001", "value": -9}, "value": -5},
                "labelPadding": 18, "title": "Hᵛᵃˡ", "titleFontWeight": "bold", "titleFontSize": 38, "titlePadding": 8}},
            "color": {"field": "s", "type": "nominal", "scale": {"domain": ["K","B","G","R"], "range": ["#111111","#2028b0","#24802a","#b32020"]},
              "legend": {"orient": "none", "legendX": 34, "legendY": 48, "title": null, "fillColor": "white", "strokeColor": "#222", "padding": 6, "rowPadding": 5,
                "symbolType": "M-1,0H9", "symbolSize": 180, "symbolStrokeWidth": 2.6, "labelFont": "Liberation Serif", "labelFontStyle": "italic", "labelFontSize": 26, "labelOffset": 62, "labelLimit": 400,
                "labelExpr": "datum.value === 'K' ? 's2=0, s4=0' : datum.value === 'B' ? 's2≈−0.14, s4=0' : datum.value === 'G' ? 's2=−0.26, s4≈0.04' : 's2= 0, s4≈−0.04'",
                "encode": {"labels": {"update": {"fill": {"signal": "datum.value === 'K' ? '#1a1a1a' : datum.value === 'B' ? '#3b35c0' : datum.value === 'G' ? '#2f7d3a' : '#b5333a'"}}}}}},
            "strokeDash": {"field": "s", "type": "nominal", "scale": {"domain": ["K","B","G","R"], "range": [[3,11],[1,0],[11,5,3,5],[13,8]]},
              "legend": {"orient": "none", "legendX": 34, "legendY": 48, "title": null, "fillColor": "white", "strokeColor": "#222", "padding": 6, "rowPadding": 5,
                "symbolType": "M-1,0H9", "symbolSize": 180, "symbolStrokeWidth": 2.6, "labelFont": "Liberation Serif", "labelFontStyle": "italic", "labelFontSize": 26, "labelOffset": 62, "labelLimit": 400,
                "labelExpr": "datum.value === 'K' ? 's2=0, s4=0' : datum.value === 'B' ? 's2≈−0.14, s4=0' : datum.value === 'G' ? 's2=−0.26, s4≈0.04' : 's2= 0, s4≈−0.04'",
                "encode": {"labels": {"update": {"fill": {"signal": "datum.value === 'K' ? '#1a1a1a' : datum.value === 'B' ? '#3b35c0' : datum.value === 'G' ? '#2f7d3a' : '#b5333a'"}}}}}}
          }
        },
        {
          "data": {"name": "bl"},
          "mark": {"type": "line", "opacity": 0},
          "encoding": {
            "x": {"field": "x", "type": "quantitative", "scale": {"type": "log", "domain": [0.00178, 1.132], "nice": false}, "axis": {"orient": "top", "labels": false, "title": null, "values": [0.002,0.003,0.004,0.005,0.006,0.007,0.008,0.009,0.01,0.02,0.03,0.04,0.05,0.06,0.07,0.08,0.09,0.1,0.2,0.3,0.4,0.5,0.6,0.7,0.8,0.9,1],
              "tickSize": {"condition": {"test": "indexof([0.005,0.01,0.05,0.1,0.5,1], datum.value) >= 0", "value": -9}, "value": -5}}},
            "y": {"field": "y", "type": "quantitative", "scale": {"domain": [-0.08, 0.451], "nice": false, "zero": false}, "axis": {"orient": "right", "labels": false, "title": null, "values": [-0.08,-0.06,-0.04,-0.02,0,0.02,0.04,0.06,0.08,0.1,0.12,0.14,0.16,0.18,0.2,0.22,0.24,0.26,0.28,0.3,0.32,0.34,0.36,0.38,0.4,0.42,0.44],
              "tickSize": {"condition": {"test": "abs(datum.value*10 - round(datum.value*10)) < 0.001", "value": -9}, "value": -5}}}
          }
        },
        {
          "data": {"values": [{}]},
          "mark": {"type": "rect", "fill": "white", "stroke": "#222", "strokeWidth": 1.5},
          "encoding": {"x": {"datum": 0.2249, "type": "quantitative", "scale": {"type": "log", "domain": [0.00178, 1.132], "nice": false}, "axis": null}, "x2": {"datum": 0.975}, "y": {"datum": 0.4215, "type": "quantitative", "scale": {"domain": [-0.08, 0.451], "nice": false, "zero": false}, "axis": null}, "y2": {"datum": 0.3547}}
        },
        {
          "data": {"values": [{}]},
          "mark": {"type": "text", "font": "Liberation Serif", "fontStyle": "italic", "fontSize": 27, "color": "#222", "align": "center", "baseline": "middle"},
          "encoding": {"x": {"datum": 0.4677, "type": "quantitative", "scale": {"type": "log", "domain": [0.00178, 1.132], "nice": false}, "axis": null}, "y": {"datum": 0.388, "type": "quantitative", "scale": {"domain": [-0.08, 0.451], "nice": false, "zero": false}, "axis": null}, "text": {"value": "Q²= 2 GeV²"}}
        }
      ],
      "resolve": {"axis": {"x": "independent", "y": "independent"}}
    },
    {
      "width": 757, "height": 468,
      "layer": [
        {
          "data": {"values": [{}]},
          "mark": {"type": "rule", "color": "#111", "strokeWidth": 1.2},
          "encoding": {"x": {"datum": 0.2, "type": "quantitative", "scale": {"type": "log", "domain": [0.00178, 1.132], "nice": false}, "axis": null}}
        },
        {
          "data": {"values": [{}]},
          "mark": {"type": "rule", "color": "#111", "strokeWidth": 1.2},
          "encoding": {"y": {"datum": 0, "type": "quantitative", "scale": {"domain": [-0.08, 0.451], "nice": false, "zero": false}, "axis": null}}
        },
        {
          "data": {"name": "br"},
          "mark": {"type": "line", "strokeWidth": 2.6, "interpolate": "monotone"},
          "encoding": {
            "x": {"field": "x", "type": "quantitative", "scale": {"type": "log", "domain": [0.00178, 1.132], "nice": false},
              "axis": {"orient": "bottom", "values": [0.002,0.003,0.004,0.005,0.006,0.007,0.008,0.009,0.01,0.02,0.03,0.04,0.05,0.06,0.07,0.08,0.09,0.1,0.2,0.3,0.4,0.5,0.6,0.7,0.8,0.9,1],
                "labelExpr": "indexof([0.005,0.01,0.05,0.1,0.5,1], datum.value) >= 0 ? format(datum.value, '.3f') : ''",
                "tickSize": {"condition": {"test": "indexof([0.005,0.01,0.05,0.1,0.5,1], datum.value) >= 0", "value": -9}, "value": -5},
                "labelPadding": 16, "title": "X", "titleFontWeight": "normal", "titleFontSize": 30, "titlePadding": 6}},
            "y": {"field": "y", "type": "quantitative", "scale": {"domain": [-0.08, 0.451], "nice": false, "zero": false},
              "axis": {"orient": "left", "labels": false, "title": null, "values": [-0.08,-0.06,-0.04,-0.02,0,0.02,0.04,0.06,0.08,0.1,0.12,0.14,0.16,0.18,0.2,0.22,0.24,0.26,0.28,0.3,0.32,0.34,0.36,0.38,0.4,0.42,0.44],
                "tickSize": {"condition": {"test": "abs(datum.value*10 - round(datum.value*10)) < 0.001", "value": -9}, "value": -5}}},
            "color": {"field": "s", "type": "nominal", "scale": {"domain": ["K","B","G","R"], "range": ["#111111","#2028b0","#24802a","#b32020"]}, "legend": null},
            "strokeDash": {"field": "s", "type": "nominal", "scale": {"domain": ["K","B","G","R"], "range": [[3,11],[1,0],[11,5,3,5],[13,8]]}, "legend": null}
          }
        },
        {
          "data": {"name": "br"},
          "mark": {"type": "line", "opacity": 0},
          "encoding": {
            "x": {"field": "x", "type": "quantitative", "scale": {"type": "log", "domain": [0.00178, 1.132], "nice": false}, "axis": {"orient": "top", "labels": false, "title": null, "values": [0.002,0.003,0.004,0.005,0.006,0.007,0.008,0.009,0.01,0.02,0.03,0.04,0.05,0.06,0.07,0.08,0.09,0.1,0.2,0.3,0.4,0.5,0.6,0.7,0.8,0.9,1],
              "tickSize": {"condition": {"test": "indexof([0.005,0.01,0.05,0.1,0.5,1], datum.value) >= 0", "value": -9}, "value": -5}}},
            "y": {"field": "y", "type": "quantitative", "scale": {"domain": [-0.08, 0.451], "nice": false, "zero": false}, "axis": {"orient": "right", "labels": false, "title": null, "values": [-0.08,-0.06,-0.04,-0.02,0,0.02,0.04,0.06,0.08,0.1,0.12,0.14,0.16,0.18,0.2,0.22,0.24,0.26,0.28,0.3,0.32,0.34,0.36,0.38,0.4,0.42,0.44],
              "tickSize": {"condition": {"test": "abs(datum.value*10 - round(datum.value*10)) < 0.001", "value": -9}, "value": -5}}}
          }
        },
        {
          "data": {"values": [{}]},
          "mark": {"type": "rect", "fill": "white", "stroke": "#222", "strokeWidth": 1.5},
          "encoding": {"x": {"datum": 0.002094, "type": "quantitative", "scale": {"type": "log", "domain": [0.00178, 1.132], "nice": false}, "axis": null}, "x2": {"datum": 0.00908}, "y": {"datum": 0.4215, "type": "quantitative", "scale": {"domain": [-0.08, 0.451], "nice": false, "zero": false}, "axis": null}, "y2": {"datum": 0.3547}}
        },
        {
          "data": {"values": [{}]},
          "mark": {"type": "text", "font": "Liberation Serif", "fontStyle": "italic", "fontSize": 27, "color": "#222", "align": "center", "baseline": "middle"},
          "encoding": {"x": {"datum": 0.004357, "type": "quantitative", "scale": {"type": "log", "domain": [0.00178, 1.132], "nice": false}, "axis": null}, "y": {"datum": 0.388, "type": "quantitative", "scale": {"domain": [-0.08, 0.451], "nice": false, "zero": false}, "axis": null}, "text": {"value": "Q²=50 GeV²"}}
        }
      ],
      "resolve": {"axis": {"x": "independent", "y": "independent"}}
    }
  ],
  "config": {
    "view": {"fill": "white", "stroke": "#000000", "strokeWidth": 3},
    "axis": {"domain": false, "grid": false, "labelFont": "Liberation Sans", "labelFontSize": 25, "labelColor": "#333333", "tickColor": "#000000", "tickWidth": 2, "labelOverlap": false, "labelFlush": false, "labelBound": false,
      "titleFont": "Liberation Serif", "titleFontStyle": "italic", "titleFontSize": 32, "titleColor": "#222222"}
  }
}
